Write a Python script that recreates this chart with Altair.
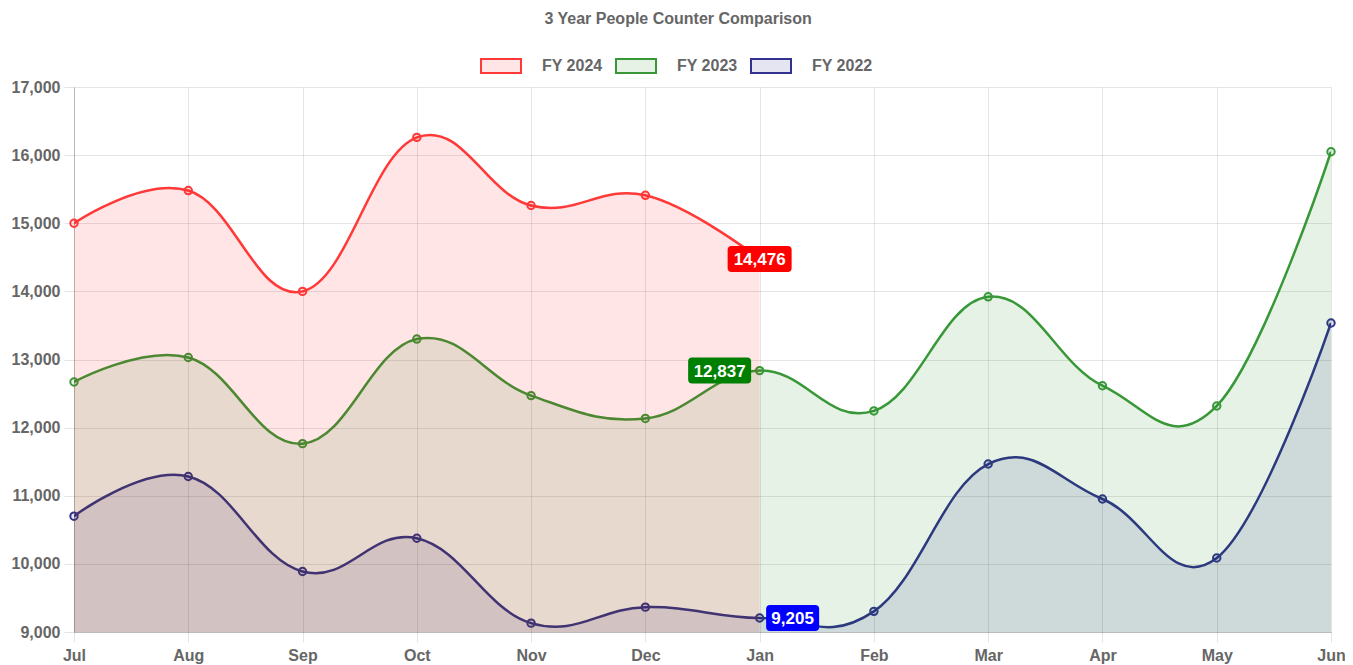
import altair as alt
import pandas as pd

months = ["Jul", "Aug", "Sep", "Oct", "Nov", "Dec", "Jan", "Feb", "Mar", "Apr", "May", "Jun"]
series_names = ["FY 2024", "FY 2023", "FY 2022"]
fy2024 = [15000, 15480, 14000, 16260, 15260, 15410, 14476]
fy2023 = [12670, 13030, 11765, 13300, 12470, 12135, 12837, 12245, 13920, 12615, 12318, 16050]
fy2022 = [10700, 11283, 9888, 10376, 9130, 9365, 9205, 9303, 11466, 10952, 10086, 13536]
y_ticks = [9000, 10000, 11000, 12000, 13000, 14000, 15000, 16000, 17000]

line_colors = ["#ff3838", "#389838", "#32328e"]
fill_colors = ["rgba(255,0,0,0.1)", "rgba(0,128,0,0.1)", "rgba(0,0,128,0.1)"]
label_colors = ["#ff0000", "#008000", "#0000ff"]
label_month = "Jan"

rows = []
for name, vals in zip(series_names, [fy2024, fy2023, fy2022]):
    for m, v in zip(months, vals):
        rows.append({"series": name, "month": m, "value": v})
df = pd.DataFrame(rows)

FONT = "Liberation Sans"
GRID = "rgba(0,0,0,0.1)"
TXT = "#666"

x_enc = alt.X("month:N", sort=months,
              scale=alt.Scale(type="point", padding=0),
              axis=alt.Axis(title=None, labelAngle=0, grid=True, gridColor=GRID,
                            tickColor=GRID, tickSize=10, domainColor="rgba(0,0,0,0.18)",
                            labelFontSize=16, labelColor=TXT, labelFont=FONT,
                            labelFontWeight="bold", labelPadding=5))
y_enc = alt.Y("value:Q",
              scale=alt.Scale(domain=[9000, 17000], zero=False, nice=False),
              axis=alt.Axis(title=None, values=y_ticks,
                            labelExpr="format(datum.value, ',.0f')", grid=True,
                            gridColor=GRID, tickColor=GRID, tickSize=10,
                            domainColor="rgba(0,0,0,0.18)",
                            labelFontSize=16, labelColor=TXT, labelFont=FONT,
                            labelFontWeight="bold", labelPadding=4))

fill_scale = alt.Scale(domain=series_names, range=fill_colors)
stroke_scale = alt.Scale(domain=series_names, range=line_colors)
legend = alt.Legend(title=None, orient="none", legendX=406, legendY=-42,
                    direction="horizontal")

base = alt.Chart(df)
layers = []
for name in ["FY 2022", "FY 2023", "FY 2024"]:
    sub = base.transform_filter(alt.datum.series == name)
    area = sub.mark_area(interpolate="cardinal", tension=-0.2, clip=True).encode(
        x=x_enc, y=y_enc,
        fill=alt.Fill("series:N", scale=fill_scale, legend=legend))
    line = sub.mark_line(interpolate="cardinal", tension=-0.2, strokeWidth=2.5, clip=True).encode(
        x=x_enc, y=y_enc,
        stroke=alt.Stroke("series:N", scale=stroke_scale, legend=legend))
    pts = sub.mark_point(size=55, strokeWidth=2, opacity=1).encode(
        x=x_enc, y=y_enc,
        stroke=alt.Stroke("series:N", scale=stroke_scale, legend=legend),
        fill=alt.Fill("series:N", scale=fill_scale, legend=legend))
    layers += [area, line, pts]


def box_path(w, h, r):
    s = w / 2.0
    hx, hy, c = 1.0, (h / 2.0) / s, r / s
    return (f"M{-hx + c},{-hy}L{hx - c},{-hy}Q{hx},{-hy} {hx},{-hy + c}"
            f"L{hx},{hy - c}Q{hx},{hy} {hx - c},{hy}L{-hx + c},{hy}"
            f"Q{-hx},{hy} {-hx},{hy - c}L{-hx},{-hy + c}Q{-hx},{-hy} {-hx + c},{-hy}Z")


label_specs = [("FY 2024", 64, 0), ("FY 2023", 63, -40), ("FY 2022", 53, 33)]
for (name, w, dx), col in zip(label_specs, label_colors):
    sub = base.transform_filter((alt.datum.series == name) & (alt.datum.month == label_month))
    box = sub.mark_point(shape=box_path(w, 26, 4), size=w * w, filled=True, opacity=1,
                         color=col, strokeWidth=0, xOffset=dx).encode(x=x_enc, y=y_enc)
    txt = sub.mark_text(color="white", fontWeight="bold", fontSize=17, font=FONT,
                        dx=dx, dy=1).encode(x=x_enc, y=y_enc,
                                            text=alt.Text("value:Q", format=",.0f"))
    layers += [box, txt]

chart = alt.layer(*layers).properties(
    width=1257, height=545,
    autosize=alt.AutoSizeParams(type="none"),
    padding={"left": 66, "top": 79, "right": 14, "bottom": 33},
    title=alt.TitleParams("3 Year People Counter Comparison", fontSize=16, fontWeight="bold",
                          color=TXT, font=FONT, anchor="middle", frame="bounds", offset=18),
).configure_view(stroke=None).configure_legend(
    symbolType="M-1,-0.35L1,-0.35L1,0.35L-1,0.35Z", symbolSize=1600,
    symbolStrokeWidth=2, labelFontSize=16, labelColor=TXT, labelFont=FONT,
    labelFontWeight="bold", labelOffset=20, columnPadding=9
)

chart.save("out.html", embed_options={"renderer": "svg", "actions": False})
